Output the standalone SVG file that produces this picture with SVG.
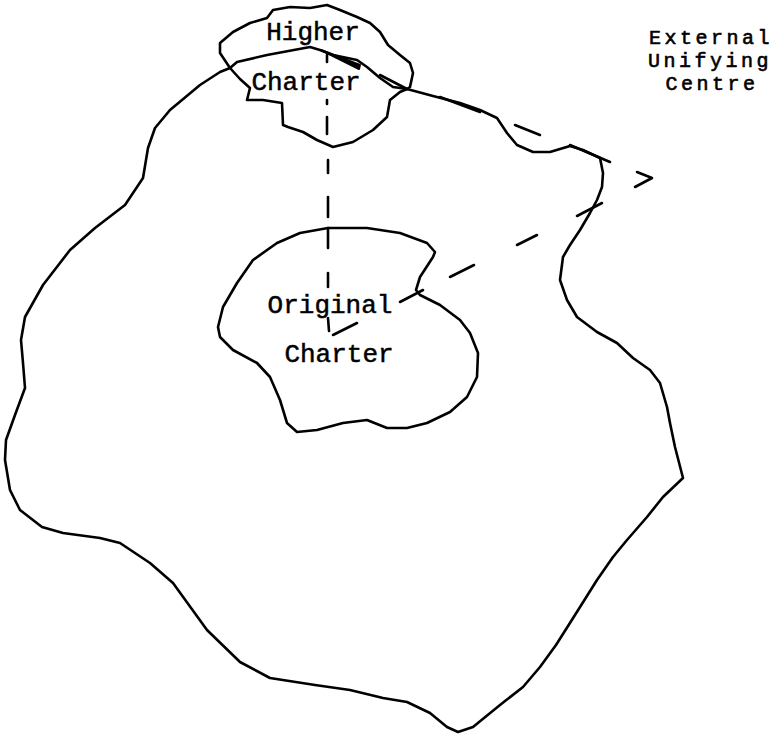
<svg xmlns="http://www.w3.org/2000/svg" width="777" height="735" viewBox="0 0 777 735">
<style>
.ln{fill:none;stroke:#000;stroke-width:2.6;stroke-linejoin:round;stroke-linecap:round}
.ds{fill:none;stroke:#000;stroke-width:2.6;stroke-linecap:round}
.tx{font-family:"Liberation Mono","Courier New",monospace;font-size:26px;fill:#000;stroke:#000;stroke-width:0.5;text-anchor:middle}
.tr{font-size:20px;letter-spacing:3.5px;stroke-width:0.6}
</style>
<rect width="777" height="735" fill="#fff"/>
<g id="outer-region">
<path class="ln" d="M230,68 L237,62 L267,55 L310,47 L320,50 L333,55 L357,60 L367,67 L380,78 L393,87 L407,89 L433,96 L460,103 L480,110 L497,118 L507,133 L517,145 L533,152 L550,152 L570,146 L583,150 L600,158 L603,173 L602,187 L597,200 L590,213 L580,230 L570,245 L563,257 L560,280 L567,300 L577,317 L597,332 L617,343 L633,358 L650,370 L660,383 L667,407 L670,423 L675,447 L683,478 L663,497 L647,517 L627,540 L613,557 L597,580 L575,615 L556,645 L540,667 L523,687 L500,705 L473,727 L458,732 L447,727 L430,713 L407,702 L383,698 L350,690 L315,685 L270,678 L240,662 L207,630 L173,583 L150,563 L120,543 L100,538 L63,533 L42,527 L20,510 L10,490 L5,460 L6,440 L15,415 L25,388 L23,363 L21,340 L25,317 L43,285 L70,250 L95,228 L125,205 L143,178 L148,148 L155,128 L170,110 L200,85 L220,72 Z"/>
</g>
<g id="higher-charter">
<path class="ln" d="M230,68 L220,53 L220,43 L233,32 L250,23 L267,18 L273,10 L290,7 L310,8 L327,5 L340,10 L357,17 L370,23 L380,32 L388,45 L400,55 L410,63 L413,73 L410,87 L407,89"/>
<path class="ln" d="M230,68 L240,79 L250,88 L247,100 L263,100 L282,103 L283,125 L288,127 L303,132 L317,140 L333,147 L353,142 L373,130 L387,117 L390,100 L400,92 L407,89"/>
<text class="tx" x="313" y="40">Higher</text>
<text class="tx" x="306" y="90">Charter</text>
</g>
<g id="original-charter">
<path class="ln" d="M328,228 L300,233 L277,243 L253,260 L237,283 L223,307 L218,327 L220,337 L233,350 L257,363 L270,377 L280,400 L287,423 L297,432 L317,430 L343,423 L367,420 L387,428 L407,428 L427,423 L450,412 L467,397 L477,377 L478,353 L470,333 L460,320 L440,305 L420,295 L416,290 L420,277 L433,257 L435,252 L427,243 L400,233 L367,228 Z"/>
<text class="tx" x="330" y="313">Original</text>
<text class="tx" x="339" y="362">Charter</text>
</g>
<g id="external-unifying-centre">
<text class="tx tr" x="711" y="44">External</text>
<text class="tx tr" x="710" y="67">Unifying</text>
<text class="tx tr" x="712" y="90">Centre</text>
</g>
<g id="connectors">
<path d="M321,50 L360,65 L359,69 Z" fill="#000" stroke="#000" stroke-width="2" stroke-linejoin="round"/>
<line class="ds" x1="380" y1="75" x2="407" y2="89"/>
<line class="ds" x1="440" y1="97" x2="480" y2="112"/>
<line class="ds" x1="515" y1="125" x2="540" y2="135"/>
<line class="ds" x1="570" y1="145" x2="610" y2="162"/>
<line class="ds" x1="333" y1="335" x2="357" y2="323"/>
<line class="ds" x1="400" y1="302" x2="423" y2="290"/>
<line class="ds" x1="450" y1="277" x2="474" y2="265"/>
<line class="ds" x1="517" y1="245" x2="537" y2="235"/>
<line class="ds" x1="577" y1="216" x2="602" y2="203"/>
<path class="ln" d="M637,172 L652,178 L635,187"/>
<line class="ds" x1="327" y1="55" x2="327" y2="62"/>
<line class="ds" x1="327" y1="100" x2="327" y2="104"/>
<line class="ds" x1="327" y1="117" x2="327" y2="134"/>
<line class="ds" x1="328" y1="160" x2="328" y2="173"/>
<line class="ds" x1="328" y1="197" x2="328" y2="217"/>
<line class="ds" x1="328" y1="228" x2="328" y2="248"/>
<line class="ds" x1="328" y1="273" x2="328" y2="287"/>
<line class="ds" x1="328" y1="318" x2="329" y2="331"/>
</g>
</svg>
